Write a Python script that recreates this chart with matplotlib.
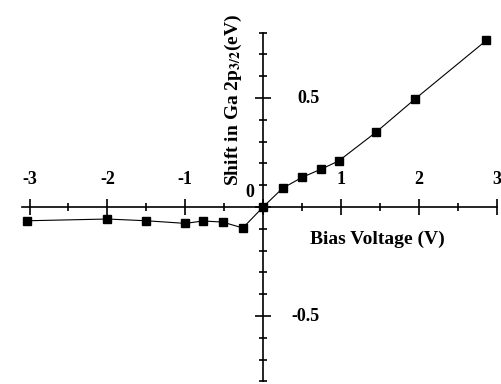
import matplotlib
matplotlib.use("Agg")
import matplotlib.pyplot as plt
from matplotlib.ticker import MultipleLocator, FixedLocator

plt.rcParams['font.family'] = ['Liberation Serif', 'DejaVu Serif']
plt.rcParams['font.weight'] = 'bold'
plt.rcParams['mathtext.fontset'] = 'stix'

# data
bias = [-3.03, -2.0, -1.5, -1.0, -0.77, -0.52, -0.26, 0.0,
        0.25, 0.5, 0.74, 0.97, 1.45, 1.95, 2.87]
shift = [-0.063, -0.055, -0.063, -0.075, -0.064, -0.069, -0.096, 0.0,
         0.086, 0.136, 0.173, 0.211, 0.343, 0.495, 0.765]
xtick_vals = [-3, -2, -1, 1, 2, 3]
ytick_vals = [-0.5, 0.5]
yminor = [-0.8, -0.7, -0.6, -0.4, -0.3, -0.2, -0.1, 0.1, 0.2, 0.3, 0.4, 0.6, 0.7, 0.8]

fig = plt.figure(figsize=(5.02, 3.84), dpi=100)
ax = fig.add_axes([0, 0, 1, 1])
ax.set_xlim(-3.38, 3.07)
ax.set_ylim(-0.812, 0.95)

ax.plot(bias, shift, color='black', lw=0.8, marker='s', ms=6, mfc='black', mec='black')

for s in ['top', 'right']:
    ax.spines[s].set_visible(False)
ax.spines['bottom'].set_position(('data', 0))
ax.spines['left'].set_position(('data', 0))
ax.spines['bottom'].set_bounds(-3.1, 3.0)
ax.spines['left'].set_bounds(-0.8, 0.8)
ax.spines['bottom'].set_linewidth(1.2)
ax.spines['left'].set_linewidth(1.2)

ax.xaxis.set_major_locator(FixedLocator([-3, -2, -1, 0, 1, 2, 3]))
ax.xaxis.set_minor_locator(FixedLocator([-2.5, -1.5, -0.5, 0.5, 1.5, 2.5]))
ax.yaxis.set_major_locator(FixedLocator([-0.5, 0, 0.5]))
ax.yaxis.set_minor_locator(FixedLocator(yminor))
ax.tick_params(which='major', direction='inout', length=11, width=1.2,
               labelbottom=False, labelleft=False)
ax.tick_params(which='minor', direction='inout', length=5.5, width=1.2)

for v in xtick_vals:
    ax.text(v, 0.128, f'{v}', ha='center', va='center', fontsize=13, fontweight='bold')
ax.text(-0.17, 0.065, '0', ha='center', va='center', fontsize=13, fontweight='bold')
ax.text(0.58, 0.5, '0.5', ha='center', va='center', fontsize=13, fontweight='bold')
ax.text(0.55, -0.5, '-0.5', ha='center', va='center', fontsize=13, fontweight='bold')

ax.text(1.47, -0.147, 'Bias Voltage (V)', ha='center', va='center',
        fontsize=14, fontweight='bold')
ax.text(-0.385, 0.49, r'Shift in Ga 2p$_{\mathbf{3/2}}$(eV)', rotation=90,
        ha='center', va='center', fontsize=14, fontweight='bold')

fig.savefig('out.png', dpi=100)
